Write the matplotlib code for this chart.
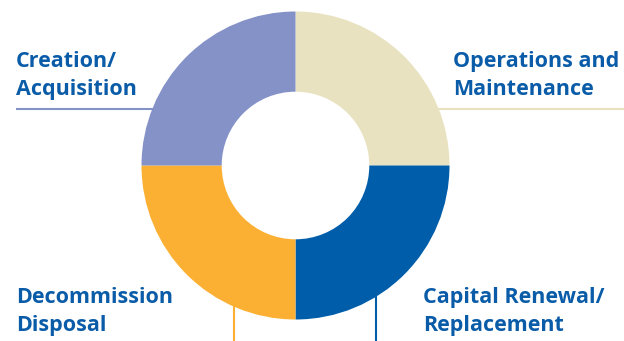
import matplotlib
matplotlib.use("Agg")
import matplotlib.pyplot as plt
import numpy as np

# lifecycle stages, clockwise from 12 o'clock
stages = ["Operations and\nMaintenance", "Capital Renewal/\nReplacement",
          "Decommission\nDisposal", "Creation/\nAcquisition"]
shares = [25, 25, 25, 25]
colors = ["#E8E2C0", "#005DAA", "#FBB034", "#8592C8"]
text_blue = "#0A5CA8"

W, H = 624, 341
fig = plt.figure(figsize=(W / 100, H / 100), dpi=100)
ax = fig.add_axes([0, 0, 1, 1])

cx, cy = 295.5, H - 165.5
r_out, r_in = 154, 73.8


def edge_x(y, side):
    return cx + side * np.sqrt(r_out ** 2 - (y - cy) ** 2)


def edge_y(x):
    return cy - np.sqrt(r_out ** 2 - (x - cx) ** 2)


# leader lines, from the ring edge outward
yl = H - 109
ax.plot([16, edge_x(yl, -1) + 2], [yl, yl], color=colors[3], lw=1.5, solid_capstyle="butt")
ax.plot([edge_x(yl, 1) - 2, W], [yl, yl], color=colors[0], lw=1.5, solid_capstyle="butt")
ax.plot([234, 234], [edge_y(234) + 2, 0], color=colors[2], lw=1.5, solid_capstyle="butt")
ax.plot([375.7, 375.7], [edge_y(375.7) + 2, 0], color=colors[1], lw=1.5, solid_capstyle="butt")

wedges, _ = ax.pie(shares, colors=colors, startangle=90, counterclock=False,
                   center=(cx, cy), radius=r_out, frame=True,
                   wedgeprops=dict(width=r_out - r_in, linewidth=0))

font = dict(family=["Open Sans", "DejaVu Sans"], fontweight="bold", fontsize=15.5,
            color=text_blue, va="baseline")
rows = [(453, 66.7, "Operations and"), (453, 95, "Maintenance"),
        (16, 66.7, "Creation/"), (16, 95, "Acquisition"),
        (16, 303.3, "Decommission"), (16, 331, "Disposal"),
        (423, 303.3, "Capital Renewal/"), (423, 331, "Replacement")]
for x, y, s in rows:
    ax.text(x, H - y, s, **font)

ax.set_xlim(0, W)
ax.set_ylim(0, H)
ax.set_aspect("equal")
ax.axis("off")

fig.savefig("out.png", dpi=100)
